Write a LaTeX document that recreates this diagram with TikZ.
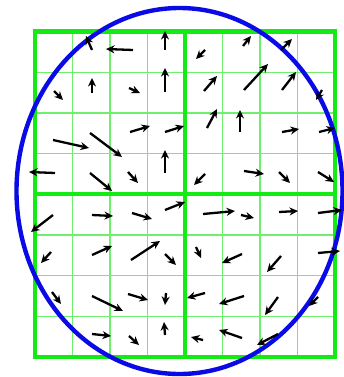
\documentclass[tikz,border=0pt]{standalone}
\usetikzlibrary{arrows.meta}
\definecolor{gridgreen}{RGB}{110,240,110}
\definecolor{boxgreen}{RGB}{20,235,20}
\definecolor{ringblue}{RGB}{10,10,230}
\begin{document}
\begin{tikzpicture}[
    x=1pt, y=-1pt,
    fine/.style={draw=gridgreen, line width=1.3pt},
    coarse/.style={draw=boxgreen, line width=4.2pt},
    ring/.style={draw=ringblue, line width=4.4pt},
    vec/.style={-{Stealth[length=8.5pt,width=8pt]}, line width=2.3pt, black}
]
\useasboundingbox (0,0) rectangle (344,377);

% Cell grid
\foreach \i in {1,...,7}
    \draw[fine] ({35+37.5*\i},31.5) -- ({35+37.5*\i},357);
\foreach \j in {1,...,7}
    \draw[fine] (35,{31.5+40.69*\j}) -- (335,{31.5+40.69*\j});

% Quadrants
\draw[coarse] (35,31.5) rectangle (335,357);
\draw[coarse] (185,31.5) -- (185,357);
\draw[coarse] (35,194.2) -- (335,194.2);

% Circular window
\draw[ring] (179.5,191) ellipse [x radius=163pt, y radius=183pt];

% Gradient samples, top left
\foreach \xa/\ya/\xb/\yb in {92/50/86/36, 133/50/106/49, 165/50/165/31,
    54/91/63/100, 92/93/92/78, 129/88/140/93, 165/92/165/68,
    53/140/89/148, 90/133/122/157, 130/132/150/126, 165/132/184/126,
    55/173/29/172, 90/173/112/191, 128/172/138/183, 165/173/165/150}
    \draw[vec] (\xa,\ya) -- (\xb,\yb);

% Gradient samples, top right
\foreach \xa/\ya/\xb/\yb in {205/50/196/59, 243/46/251/36, 281/50/292/39,
    204/91/217/76, 244/90/268/64, 282/90/296/72, 322/90/316/100,
    207/128/217/109, 240/132/240/110, 282/132/299/129, 319/132/335/128,
    205/174/194/185, 244/171/264/174, 279/172/290/183, 318/172/334/182}
    \draw[vec] (\xa,\ya) -- (\xb,\yb);

% Gradient samples, bottom left
\foreach \xa/\ya/\xb/\yb in {53/215/31/232, 92/215/113/216, 132/213/152/219, 165/210/185/202,
    51/252/41/263, 92/255/112/246, 131/260/160/241, 165/254/176/265,
    52/292/61/304, 92/296/123/311, 128/294/148/300, 166/293/165/305,
    92/334/111/336, 129/336/139/345, 165/335/164/322}
    \draw[vec] (\xa,\ya) -- (\xb,\yb);

% Gradient samples, bottom right
\foreach \xa/\ya/\xb/\yb in {203/214/235/211, 241/215/254/218, 279/212/298/211, 318/213/342/210,
    196/247/201/258, 242/254/222/263, 281/256/267/272, 318/253/340/251,
    205/293/187/298, 244/296/219/304, 278/297/265/315, 318/297/309/306,
    203/340/191/337, 242/338/219/330, 278/334/257/345}
    \draw[vec] (\xa,\ya) -- (\xb,\yb);

\end{tikzpicture}
\end{document}
